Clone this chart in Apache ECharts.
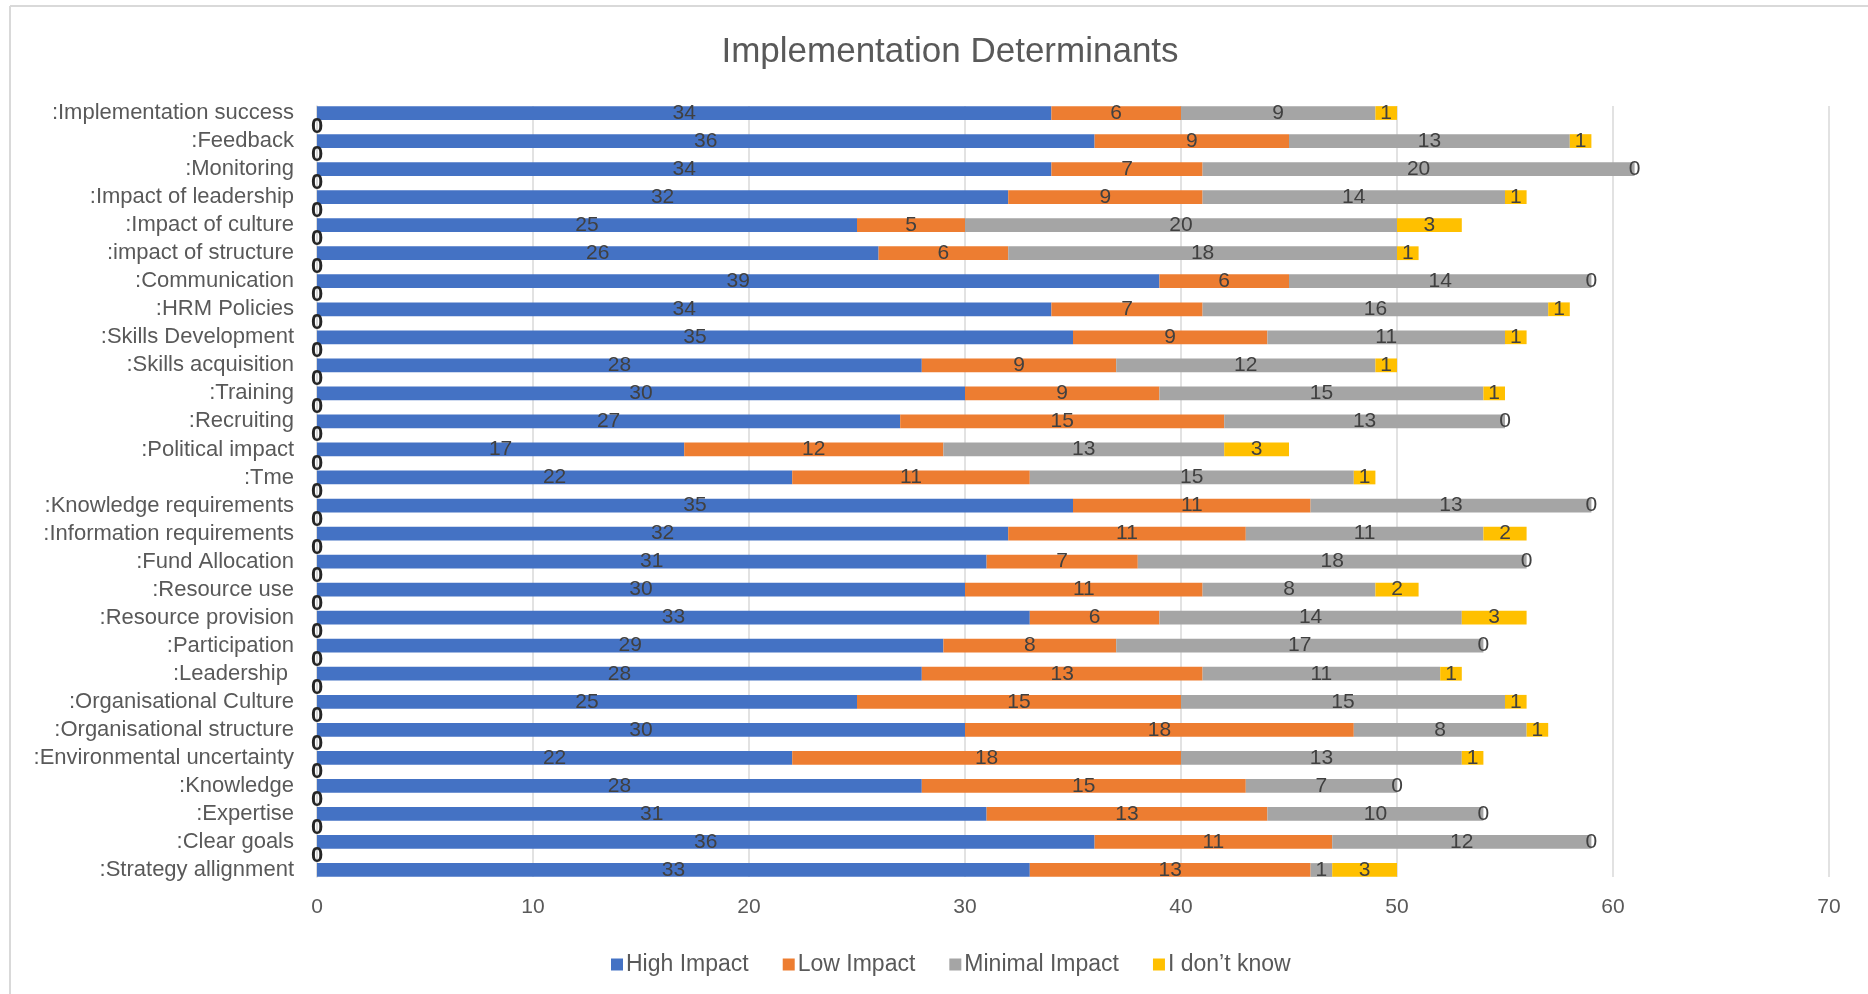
<!DOCTYPE html>
<html>
<head>
<meta charset="utf-8">
<script src="https://cdn.jsdelivr.net/npm/echarts@6/dist/echarts.min.js"></script>
<style>
  html, body { margin: 0; padding: 0; background: #ffffff; }
  #chart { width: 1868px; height: 994px; }
</style>
</head>
<body>
<div id="chart"></div>
<script>
// Categories, top to bottom as displayed
const categories = [
  ':Implementation success', ':Feedback', ':Monitoring', ':Impact of leadership',
  ':Impact of culture', ':impact of structure', ':Communication', ':HRM Policies',
  ':Skills Development', ':Skills acquisition', ':Training', ':Recruiting',
  ':Political impact', ':Tme', ':Knowledge requirements', ':Information requirements',
  ':Fund Allocation', ':Resource use', ':Resource provision', ':Participation',
  ':Leadership ', ':Organisational Culture', ':Organisational structure',
  ':Environmental uncertainty', ':Knowledge', ':Expertise', ':Clear goals',
  ':Strategy allignment'
];
const highImpact    = [34, 36, 34, 32, 25, 26, 39, 34, 35, 28, 30, 27, 17, 22, 35, 32, 31, 30, 33, 29, 28, 25, 30, 22, 28, 31, 36, 33];
const lowImpact     = [ 6,  9,  7,  9,  5,  6,  6,  7,  9,  9,  9, 15, 12, 11, 11, 11,  7, 11,  6,  8, 13, 15, 18, 18, 15, 13, 11, 13];
const minimalImpact = [ 9, 13, 20, 14, 20, 18, 14, 16, 11, 12, 15, 13, 13, 15, 13, 11, 18,  8, 14, 17, 11, 15,  8, 13,  7, 10, 12,  1];
const dontKnow      = [ 1,  1,  0,  1,  3,  1,  0,  1,  1,  1,  1,  0,  3,  1,  0,  2,  0,  2,  3,  0,  1,  1,  1,  1,  0,  0,  0,  3];
// Values of the blank rows between categories (shown as bold "0")
const blankRowValues = [0,0,0,0,0,0,0,0,0,0,0,0,0,0,0,0,0,0,0,0,0,0,0,0,0,0,0];
const seriesNames = ['High Impact', 'Low Impact', 'Minimal Impact', 'I don\u2019t know'];
const seriesColors = ['#4472C4', '#ED7D31', '#A5A5A5', '#FFC000'];
const xMin = 0, xMax = 70, xStep = 10;

// Build interleaved rows: category row, blank row, category row, ...
const rows = [];
const rowIsCat = [];
categories.forEach((c, i) => {
  rows.push(c); rowIsCat.push(i);
  if (i < blankRowValues.length) { rows.push(''); rowIsCat.push(-1 - i); }
});
function expand(vals) {
  return rowIsCat.map(k => (k >= 0 ? vals[k] : '-'));
}
const blankData = rowIsCat.map(k => (k < 0 ? blankRowValues[-1 - k] : '-'));

const FONT = '"Liberation Sans", Arial, sans-serif';
const valueSeries = [highImpact, lowImpact, minimalImpact, dontKnow].map((vals, si) => ({
  name: seriesNames[si],
  type: 'bar',
  stack: 'total',
  barCategoryGap: '2%',
  data: expand(vals),
  itemStyle: { color: seriesColors[si] },
  label: {
    show: true, position: 'inside', formatter: '{c}',
    color: '#404040', fontSize: 21, fontFamily: FONT
  },
  emphasis: { disabled: true }
}));
valueSeries.push({
  name: 'blank',
  type: 'bar',
  stack: 'total',
  data: blankData,
  itemStyle: { color: 'transparent' },
  label: {
    show: true, position: 'inside', formatter: '{c}',
    color: '#262626', fontWeight: 'bold', fontSize: 22, fontFamily: FONT
  },
  emphasis: { disabled: true }
});

const chart = echarts.init(document.getElementById('chart'), null, { renderer: 'canvas' });
chart.setOption({
  animation: false,
  backgroundColor: '#ffffff',
  title: {
    text: 'Implementation Determinants',
    left: 945, textAlign: 'center', top: 30,
    textStyle: { color: '#595959', fontSize: 35, fontWeight: 'normal', fontFamily: FONT }
  },
  legend: {
    data: seriesNames,
    left: 606, top: 948,
    itemWidth: 12, itemHeight: 12, itemGap: 34,
    icon: 'rect',
    textStyle: { color: '#595959', fontSize: 23, fontFamily: FONT, padding: [0, 0, 0, -2] }
  },
  grid: { left: 317, right: 39, top: 106, bottom: 117, containLabel: false },
  xAxis: {
    type: 'value', min: xMin, max: xMax, interval: xStep,
    axisLine: { show: false }, axisTick: { show: false },
    splitLine: { show: true, lineStyle: { color: '#d9d9d9', width: 1.5 } },
    axisLabel: { color: '#595959', fontSize: 21, fontFamily: FONT, margin: 20 }
  },
  yAxis: {
    type: 'category', data: rows, inverse: true,
    axisLine: { show: true, lineStyle: { color: '#d9d9d9', width: 1.5 } },
    axisTick: { show: false },
    splitLine: { show: false },
    axisLabel: { interval: 0, color: '#595959', fontSize: 22, fontFamily: FONT, margin: 23 }
  },
  graphic: [
    { type: 'line', shape: { x1: 10, y1: 6, x2: 1868, y2: 6 }, style: { stroke: '#d9d9d9', lineWidth: 2 } },
    { type: 'line', shape: { x1: 10, y1: 6, x2: 10, y2: 994 }, style: { stroke: '#d9d9d9', lineWidth: 2 } }
  ],
  series: valueSeries
});
</script>
</body>
</html>
